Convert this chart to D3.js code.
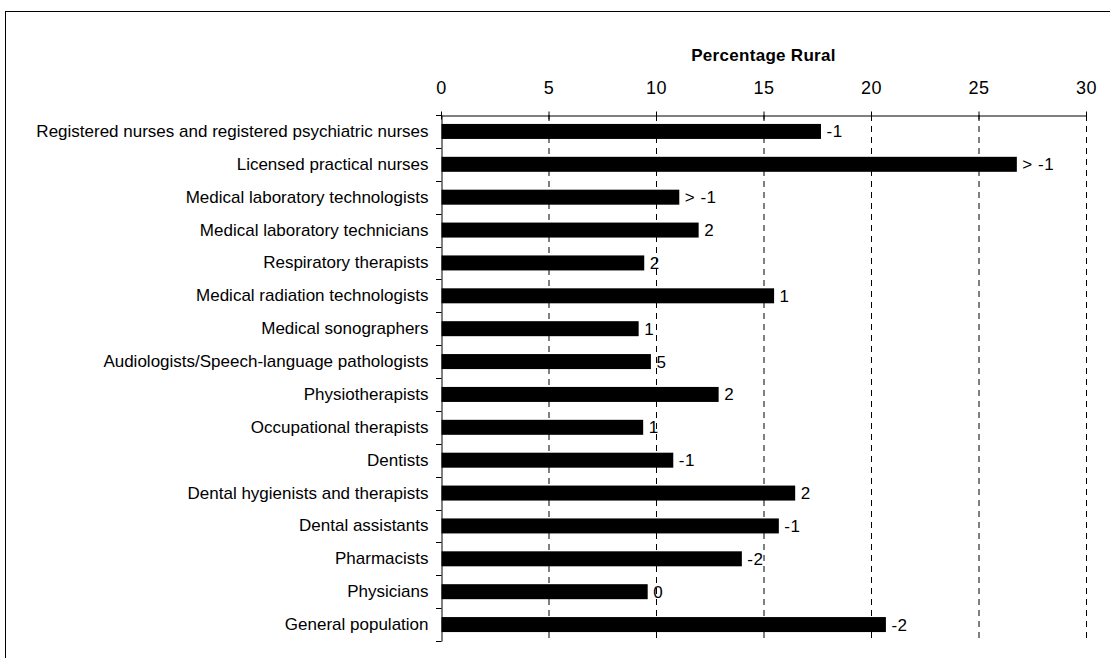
<!DOCTYPE html>
<html>
<head>
<meta charset="utf-8">
<script src="https://cdn.jsdelivr.net/npm/d3@7"></script>
<style>
  body { margin: 0; background: #fff; }
  svg text { font-family: "Liberation Sans", Arial, sans-serif; fill: #000; }
  .grid line { stroke: #000; stroke-dasharray: 6,5; }
</style>
</head>
<body>
<div class="chart"></div>
<script>
const width = 1110;
const height = 658;

// data
const categories = [
    'Registered nurses and registered psychiatric nurses',
    'Licensed practical nurses',
    'Medical laboratory technologists',
    'Medical laboratory technicians',
    'Respiratory therapists',
    'Medical radiation technologists',
    'Medical sonographers',
    'Audiologists/Speech-language pathologists',
    'Physiotherapists',
    'Occupational therapists',
    'Dentists',
    'Dental hygienists and therapists',
    'Dental assistants',
    'Pharmacists',
    'Physicians',
    'General population'
];
const percentRural = [17.65, 26.76, 11.06, 11.96, 9.43, 15.47, 9.17, 9.74, 12.89, 9.38, 10.78, 16.45, 15.69, 13.97, 9.59, 20.67];
const changeLabels = ['-1', '> -1', '> -1', '2', '2', '1', '1', '5', '2', '1', '-1', '2', '-1', '-2', '0', '-2'];
const xTicks = [0, 5, 10, 15, 20, 25, 30];

const svg = d3.select('.chart').append('svg')
    .attr('width', width)
    .attr('height', height);

// outer frame
svg.append('rect')
    .attr('x', 5.5).attr('y', 11.5)
    .attr('width', width + 10).attr('height', height + 10)
    .attr('fill', 'none').attr('stroke', '#000');

const xScale = d3.scaleLinear().domain([0, 30]).range([441, 1086]);
const yScale = d3.scaleBand().domain(categories).range([115, 641]).padding(0);
const barH = 15;

const rows = categories.map((c, i) => ({ name: c, value: percentRural[i], label: changeLabels[i] }));

/* dashed grid */
svg.append('g')
    .attr('class', 'grid')
    .attr('transform', 'translate(0,115)')
    .call(d3.axisBottom(xScale).tickValues(xTicks.slice(1)).tickSize(641 - 115).tickFormat(''))
    .call(g => g.select('.domain').remove());

/* top axis */
const xAxis = svg.append('g')
    .attr('transform', 'translate(0,115.5)')
    .call(d3.axisTop(xScale).tickValues(xTicks).tickSize(4).tickSizeOuter(0).tickPadding(18));
xAxis.selectAll('.tick line').attr('y2', 4).attr('y1', -4).attr('stroke', '#000');
xAxis.select('.domain').attr('stroke', '#000');
xAxis.selectAll('text')
    .attr('font-size', 18)
    .attr('letter-spacing', 0.5)
    .attr('font-family', '"Liberation Sans", Arial, sans-serif');

svg.append('text')
    .attr('x', (xScale(0) + xScale(30)) / 2)
    .attr('y', 61)
    .attr('text-anchor', 'middle')
    .attr('font-size', 17)
    .attr('font-weight', 'bold')
    .attr('letter-spacing', 0.3)
    .text('Percentage Rural');

/* left axis: labels at centres, ticks at band boundaries */
const yAxis = svg.append('g')
    .attr('transform', 'translate(441.5,0)')
    .call(d3.axisLeft(yScale).tickSize(0).tickPadding(13));
yAxis.select('.domain').attr('stroke', '#000');
yAxis.selectAll('text')
    .attr('font-size', 17)
    .attr('font-family', '"Liberation Sans", Arial, sans-serif');

const bounds = categories.map(c => yScale(c)).concat([yScale(categories[categories.length - 1]) + yScale.bandwidth()]);
svg.append('g').selectAll('line')
    .data(bounds)
    .enter()
    .append('line')
    .attr('x1', 436).attr('x2', 441.5)
    .attr('y1', d => Math.round(d) + 0.5)
    .attr('y2', d => Math.round(d) + 0.5)
    .attr('stroke', '#000');

/* bars */
const barGroups = svg.selectAll('.bar')
    .data(rows)
    .enter()
    .append('g');
barGroups.append('rect')
    .attr('class', 'bar')
    .attr('x', xScale(0) + 0.5)
    .attr('y', d => yScale(d.name) + (yScale.bandwidth() - barH) / 2)
    .attr('width', d => xScale(d.value) - xScale(0))
    .attr('height', barH)
    .attr('fill', '#000');

barGroups.append('text')
    .attr('x', d => xScale(d.value) + 6)
    .attr('y', d => yScale(d.name) + yScale.bandwidth() / 2)
    .attr('dy', '0.35em')
    .attr('font-size', 17)
    .attr('letter-spacing', 0.5)
    .text(d => d.label);
</script>
</body>
</html>
